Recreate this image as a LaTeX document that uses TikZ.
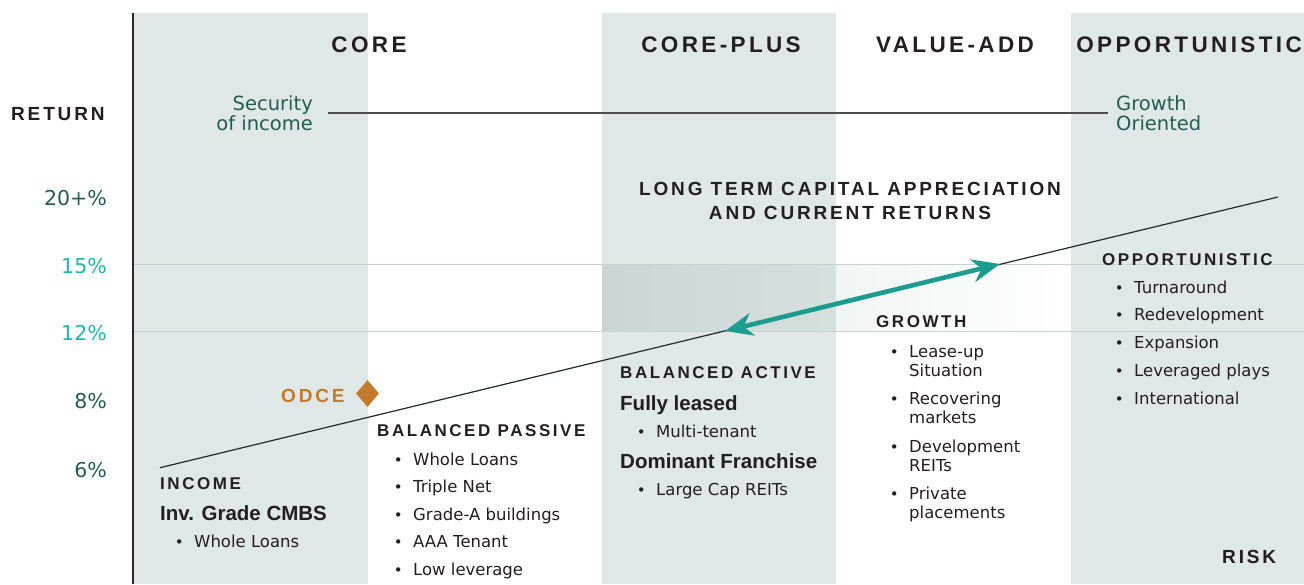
\documentclass[tikz,border=0pt]{standalone}
\usepackage{fontspec}
\setmainfont{DejaVu Sans}
\newfontfamily\capsfont[LetterSpace=15]{Liberation Sans Bold}
\newfontfamily\subfont{Liberation Sans Bold}
\usetikzlibrary{shapes.geometric,arrows.meta,fadings}
\definecolor{bandgray}{HTML}{E0E8E7}
\definecolor{gridgray}{HTML}{C7D3D2}
\definecolor{ink}{HTML}{231F20}
\definecolor{deepteal}{HTML}{245C55}
\definecolor{brightteal}{HTML}{20B6A9}
\definecolor{arrowteal}{HTML}{1B9C8F}
\definecolor{odceorange}{HTML}{C27A2C}
\definecolor{shadeteal}{HTML}{3C6464}
\newcommand\itembul{\makebox[0pt][c]{\fontsize{15}{15}\selectfont •}\hspace{15pt}}

\begin{document}
\begin{tikzpicture}[x=1pt,y=-1pt,
  >={Stealth[length=28pt,width=23pt,inset=9pt]},
  every node/.style={inner sep=0pt},
  band/.style={fill=bandgray},
  grid/.style={gridgray,line width=1pt},
  trend/.style={ink!85!deepteal,line width=1.2pt},
  hdr/.style={anchor=base,text=ink,font=\capsfont\fontsize{22.5}{22.5}\selectfont},
  mid/.style={text=ink,font=\capsfont\fontsize{19}{19}\selectfont},
  sect/.style={anchor=base west,text=ink,font=\capsfont\fontsize{17}{17}\selectfont},
  sub/.style={anchor=base west,text=ink,font=\subfont\fontsize{20.5}{20.5}\selectfont},
  item/.style={anchor=base west,text=ink,font=\fontsize{16.5}{19}\selectfont},
  tick/.style={anchor=base east,font=\fontsize{20.5}{20.5}\selectfont},
  note/.style={text=deepteal,font=\fontsize{19.5}{20}\selectfont}]
  \useasboundingbox (0,0) rectangle (1304,584);
  \fill[white] (0,0) rectangle (1304,584);
  \foreach \l/\r in {133/368,602/836,1071/1304}
    \fill[band] (\l,13) rectangle (\r,584);
  \fill[shadeteal,fill opacity=.13,path fading=east] (602,264) rectangle (1066,331);
  \draw[grid] (133,264) -- (1304,264) (133,331) -- (1304,331);
  \draw[ink!85!deepteal,line width=1.2pt] (133,13) -- (133,584);

  \node[hdr] (core) at (369,52) {CORE};
  \node[hdr] (cplus) at (721,52) {CORE-PLUS};
  \node[hdr] (vadd) at (955,52) {VALUE-ADD};
  \node[hdr] (opp) at (1189,52) {OPPORTUNISTIC};

  \node[mid,anchor=base west] (ret) at (11,120) {RETURN};
  \node[mid,anchor=base west] (risk) at (1222,563) {RISK};
  \node[tick,text=deepteal] (r20) at (107,205) {20+\%};
  \node[tick,text=brightteal] (r15) at (107,273) {15\%};
  \node[tick,text=brightteal] (r12) at (107,340) {12\%};
  \node[tick,text=deepteal] (r8) at (107,408) {8\%};
  \node[tick,text=deepteal] (r6) at (107,477) {6\%};

  \node[note,anchor=east,align=right] (secure) at (313,113) {Security\\of income};
  \node[note,anchor=west,align=left] (growth) at (1116,113) {Growth\\Oriented};
  \draw[ink!80,line width=1.3pt] ([xshift=15pt]secure.east) -- ([xshift=-8pt]growth.west);

  \node[mid,anchor=base] (ltc1) at (850,195) {LONG TERM CAPITAL APPRECIATION};
  \node[mid,anchor=base] (ltc2) at (850,219) {AND CURRENT RETURNS};

  \coordinate (lo) at (160,467.7);
  \coordinate (hi) at (1278,197);
  \coordinate (at12) at (725,331);
  \coordinate (at15) at (1000,264);
  \draw[trend] (lo) -- (hi);
  \draw[arrowteal,line width=4.6pt,<->] (at12) -- (at15);

  \node[mid,anchor=base west,text=odceorange] (odce) at (281,402) {ODCE};
  \node[diamond,fill=odceorange,minimum width=23pt,minimum height=27pt] (odcemark) at (367.5,393.5) {};

  \node[sect] (inc) at (160,489) {INCOME};
  \node[sub] (cmbs) at (160,520) {Inv. Grade CMBS};
  \node[item] (cmbs1) at (179,547) {\itembul Whole Loans};

  \node[sect] (bpas) at (377,436) {BALANCED PASSIVE};
  \foreach \t [count=\i] in {Whole Loans,Triple Net,Grade-A buildings,AAA Tenant,Low leverage}
    \node[item] (bpas\i) at (398,{465+27.5*(\i-1)}) {\itembul \t};

  \node[sect] (bact) at (620,378) {BALANCED ACTIVE};
  \node[sub] (full) at (620,410) {Fully leased};
  \node[item] (full1) at (641,437) {\itembul Multi-tenant};
  \node[sub] (dom) at (620,468) {Dominant Franchise};
  \node[item] (dom1) at (641,495) {\itembul Large Cap REITs};

  \node[sect] (grw) at (876,327) {GROWTH};
  \foreach \a/\b [count=\i] in {Lease-up/Situation,Recovering/markets,Development/REITs,Private/placements}
    \node[item] (grw\i) at (894,{357+47.5*(\i-1)}) {\itembul\begin{tabular}[t]{@{}l@{}}\a\\ \b\end{tabular}};

  \node[sect] (opps) at (1102,265.7) {OPPORTUNISTIC};
  \foreach \t [count=\i] in {Turnaround,Redevelopment,Expansion,Leveraged plays,International}
    \node[item] (opps\i) at (1119,{293+27.8*(\i-1)}) {\itembul \t};
\end{tikzpicture}
\end{document}
